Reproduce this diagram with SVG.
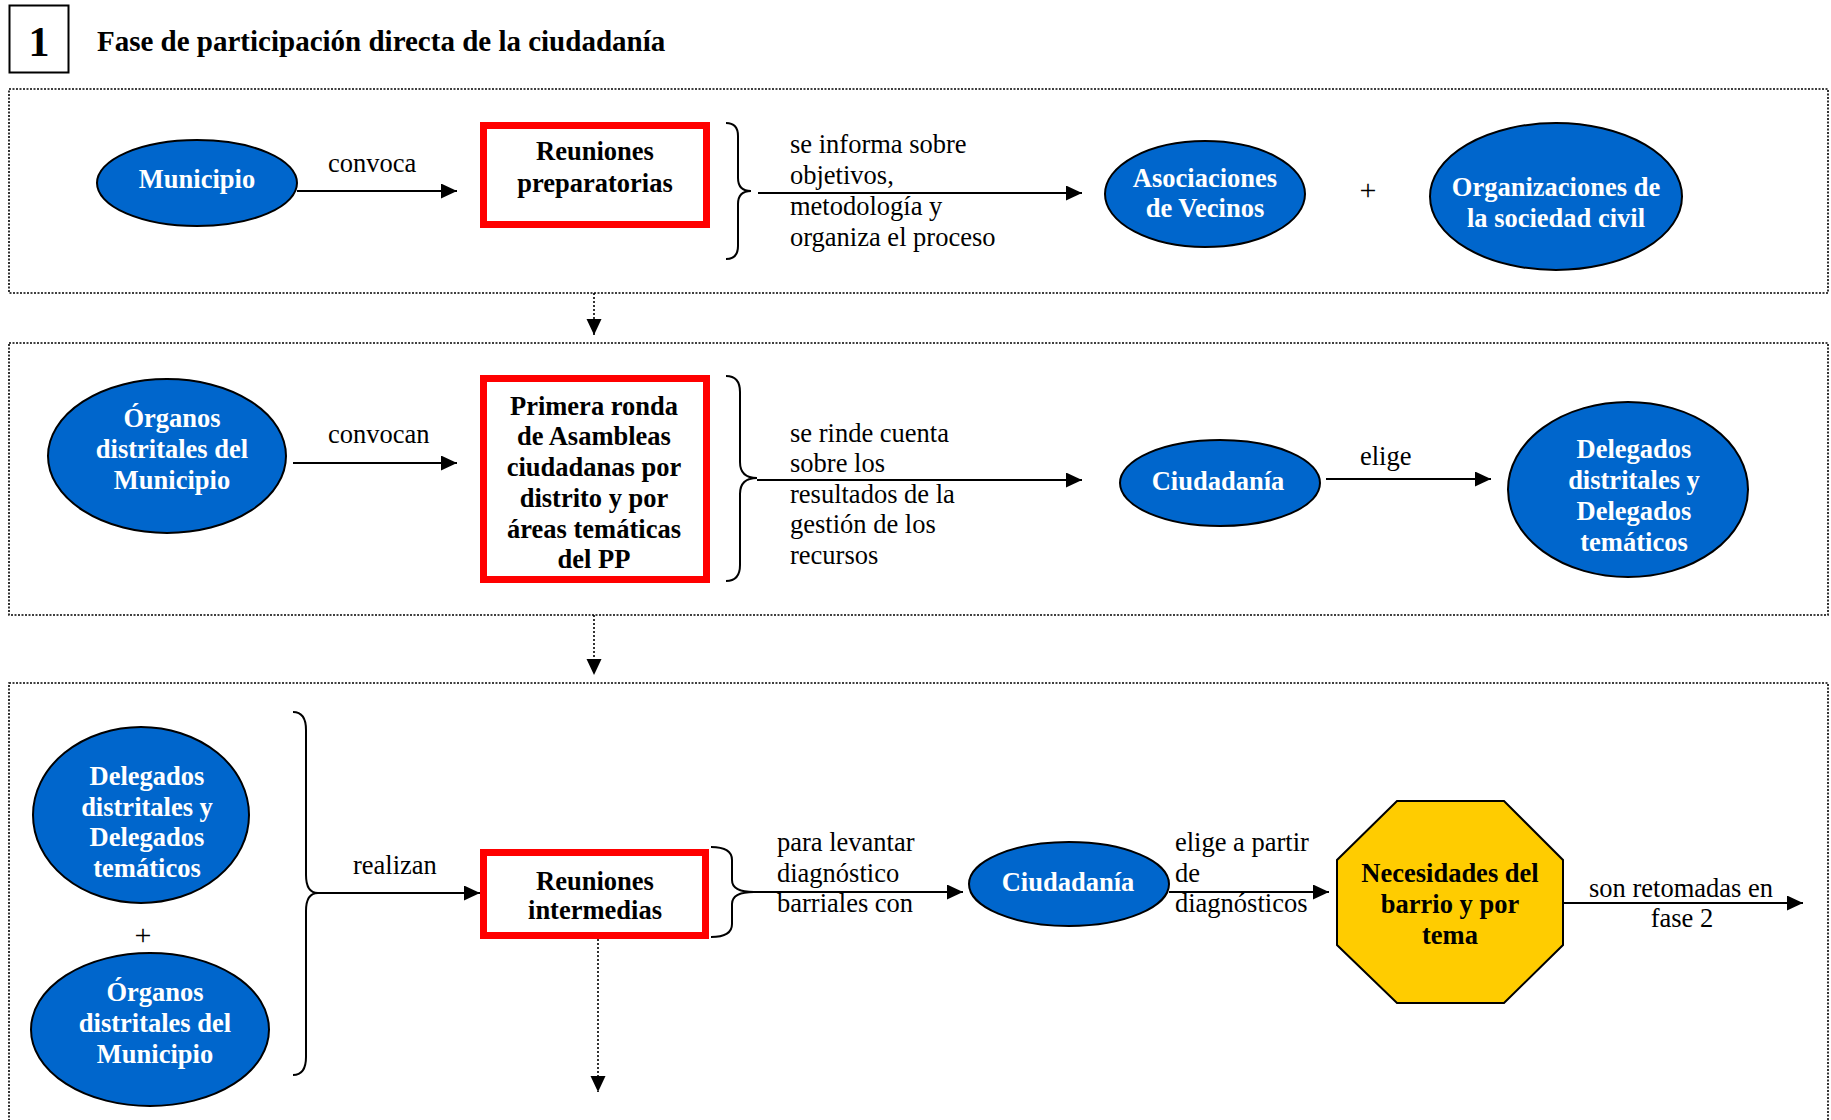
<svg xmlns="http://www.w3.org/2000/svg" width="1831" height="1120" viewBox="0 0 1831 1120">
<style>
text{font-family:"Liberation Serif","Times New Roman",serif;}
.ell{fill:#0066CC;stroke:#000;stroke-width:2;}
.box{fill:#fff;stroke:#FF0000;stroke-width:7;}
.oct{fill:#FFCC00;stroke:#000;stroke-width:2;}
.wt{fill:#fff;font-weight:bold;font-size:26.5px;text-anchor:middle;}
.bt{fill:#000;font-weight:bold;font-size:26.5px;text-anchor:middle;}
.lbl{fill:#000;font-size:26.5px;}
.lblc{fill:#000;font-size:26.5px;text-anchor:middle;}
.plus{fill:#000;font-size:30px;text-anchor:middle;}
.panel{fill:none;stroke:#000;stroke-width:1.6;stroke-dasharray:2 1.5;}
.conn{fill:none;stroke:#000;stroke-width:2.2;}
.dconn{fill:none;stroke:#000;stroke-width:1.6;stroke-dasharray:2 2;}
.brace{fill:none;stroke:#000;stroke-width:2;}
</style>
<defs>
<marker id="ah" markerUnits="userSpaceOnUse" markerWidth="17" markerHeight="16" refX="16" refY="7.5" orient="auto">
<path d="M0,0 L16,7.5 L0,15 z" fill="#000"/>
</marker>
</defs>
<rect width="1831" height="1120" fill="#fff"/>

<g id="title">
<rect x="9.5" y="5.5" width="59" height="67" fill="#fff" stroke="#000" stroke-width="2"/>
<text x="39" y="56" font-size="42" font-weight="bold" text-anchor="middle">1</text>
<text x="97" y="51" font-size="29" font-weight="bold">Fase de participación directa de la ciudadanía</text>
</g>

<g id="panels">
<rect class="panel" x="9" y="89" width="1819" height="204"/>
<rect class="panel" x="9" y="343" width="1819" height="272"/>
<rect class="panel" x="9" y="683" width="1819" height="500"/>
</g>

<g id="connectors">
<line class="conn" x1="297" y1="191" x2="457" y2="191" marker-end="url(#ah)"/>
<line class="conn" x1="758" y1="193" x2="1082" y2="193" marker-end="url(#ah)"/>
<line class="conn" x1="293" y1="463" x2="457" y2="463" marker-end="url(#ah)"/>
<line class="conn" x1="757" y1="480" x2="1082" y2="480" marker-end="url(#ah)"/>
<line class="conn" x1="1326" y1="479" x2="1491" y2="479" marker-end="url(#ah)"/>
<line class="conn" x1="318" y1="893" x2="480" y2="893" marker-end="url(#ah)"/>
<line class="conn" x1="754" y1="892" x2="963" y2="892" marker-end="url(#ah)"/>
<line class="conn" x1="1169" y1="892" x2="1329" y2="892" marker-end="url(#ah)"/>
<line class="conn" x1="1563" y1="903" x2="1803" y2="903" marker-end="url(#ah)"/>
<line class="dconn" x1="594" y1="293" x2="594" y2="335" marker-end="url(#ah)"/>
<line class="dconn" x1="594" y1="615" x2="594" y2="675" marker-end="url(#ah)"/>
<line class="dconn" x1="598" y1="939" x2="598" y2="1092" marker-end="url(#ah)"/>
<path class="brace" d="M726,123 Q738,123 738,136 L738,178 Q738,191 751,191 Q738,191 738,204 L738,246 Q738,259 726,259"/>
<path class="brace" d="M726,376 Q740,376 740,392 L740,462 Q740,478 757,478 Q740,478 740,494 L740,565 Q740,581 726,581"/>
<path class="brace" d="M711,847 Q732,847 732,860 L732,880 Q732,892 754,892 Q732,892 732,904 L732,924 Q732,937 711,937"/>
<path class="brace" d="M293,712 Q306,712 306,730 L306,875 Q306,893 318,893 Q306,893 306,911 L306,1057 Q306,1075 293,1075"/>
</g>

<g id="labels">
<text class="lbl" x="328" y="172">convoca</text>
<text class="lbl" x="790" y="153">se informa sobre</text>
<text class="lbl" x="790" y="184">objetivos,</text>
<text class="lbl" x="790" y="215">metodología y</text>
<text class="lbl" x="790" y="246">organiza el proceso</text>
<text class="plus" x="1368" y="200">+</text>
<text class="lbl" x="328" y="443">convocan</text>
<text class="lbl" x="790" y="442">se rinde cuenta</text>
<text class="lbl" x="790" y="472">sobre los</text>
<text class="lbl" x="790" y="503">resultados de la</text>
<text class="lbl" x="790" y="533">gestión de los</text>
<text class="lbl" x="790" y="564">recursos</text>
<text class="lbl" x="1360" y="465">elige</text>
<text class="plus" x="143" y="945">+</text>
<text class="lbl" x="353" y="874">realizan</text>
<text class="lbl" x="777" y="851">para levantar</text>
<text class="lbl" x="777" y="882">diagnóstico</text>
<text class="lbl" x="777" y="912">barriales con</text>
<text class="lbl" x="1175" y="851">elige a partir</text>
<text class="lbl" x="1175" y="882">de</text>
<text class="lbl" x="1175" y="912">diagnósticos</text>
<text class="lblc" x="1681" y="897">son retomadas en</text>
<text class="lblc" x="1682" y="927">fase 2</text>
</g>

<g id="municipio">
<ellipse class="ell" cx="197" cy="183" rx="100" ry="43"/>
<text class="wt" x="197" y="188">Municipio</text>
</g>
<g id="reuniones-preparatorias">
<rect class="box" x="483.5" y="125.5" width="223" height="99"/>
<text class="bt" x="595" y="160">Reuniones</text>
<text class="bt" x="595" y="192">preparatorias</text>
</g>
<g id="asociaciones">
<ellipse class="ell" cx="1205" cy="194" rx="100" ry="53"/>
<text class="wt" x="1205" y="187">Asociaciones</text>
<text class="wt" x="1205" y="217">de Vecinos</text>
</g>
<g id="organizaciones">
<ellipse class="ell" cx="1556" cy="196.5" rx="126" ry="73.5"/>
<text class="wt" x="1556" y="196">Organizaciones de</text>
<text class="wt" x="1556" y="227">la sociedad civil</text>
</g>

<g id="organos-1">
<ellipse class="ell" cx="167" cy="456" rx="119" ry="77"/>
<text class="wt" x="172" y="427">Órganos</text>
<text class="wt" x="172" y="458">distritales del</text>
<text class="wt" x="172" y="489">Municipio</text>
</g>
<g id="primera-ronda">
<rect class="box" x="483.5" y="378.5" width="223" height="201"/>
<text class="bt" x="594" y="415">Primera ronda</text>
<text class="bt" x="594" y="445">de Asambleas</text>
<text class="bt" x="594" y="476">ciudadanas por</text>
<text class="bt" x="594" y="507">distrito y por</text>
<text class="bt" x="594" y="538">áreas temáticas</text>
<text class="bt" x="594" y="568">del PP</text>
</g>
<g id="ciudadania-1">
<ellipse class="ell" cx="1220" cy="483" rx="100" ry="43"/>
<text class="wt" x="1218" y="490">Ciudadanía</text>
</g>
<g id="delegados-1">
<ellipse class="ell" cx="1628" cy="489.5" rx="120" ry="87.5"/>
<text class="wt" x="1634" y="458">Delegados</text>
<text class="wt" x="1634" y="489">distritales y</text>
<text class="wt" x="1634" y="520">Delegados</text>
<text class="wt" x="1634" y="551">temáticos</text>
</g>

<g id="delegados-2">
<ellipse class="ell" cx="141" cy="815" rx="108" ry="88"/>
<text class="wt" x="147" y="785">Delegados</text>
<text class="wt" x="147" y="816">distritales y</text>
<text class="wt" x="147" y="846">Delegados</text>
<text class="wt" x="147" y="877">temáticos</text>
</g>
<g id="organos-2">
<ellipse class="ell" cx="150" cy="1029.5" rx="119" ry="76.5"/>
<text class="wt" x="155" y="1001">Órganos</text>
<text class="wt" x="155" y="1032">distritales del</text>
<text class="wt" x="155" y="1063">Municipio</text>
</g>
<g id="reuniones-intermedias">
<rect class="box" x="483.5" y="852.5" width="222" height="83"/>
<text class="bt" x="595" y="890">Reuniones</text>
<text class="bt" x="595" y="919">intermedias</text>
</g>
<g id="ciudadania-2">
<ellipse class="ell" cx="1069" cy="884" rx="100" ry="42"/>
<text class="wt" x="1068" y="891">Ciudadanía</text>
</g>
<g id="necesidades">
<polygon class="oct" points="1397,801 1504,801 1563,860 1563,945 1504,1003 1397,1003 1337,945 1337,860"/>
<text class="bt" x="1450" y="882">Necesidades del</text>
<text class="bt" x="1450" y="913">barrio y por</text>
<text class="bt" x="1450" y="944">tema</text>
</g>
</svg>
